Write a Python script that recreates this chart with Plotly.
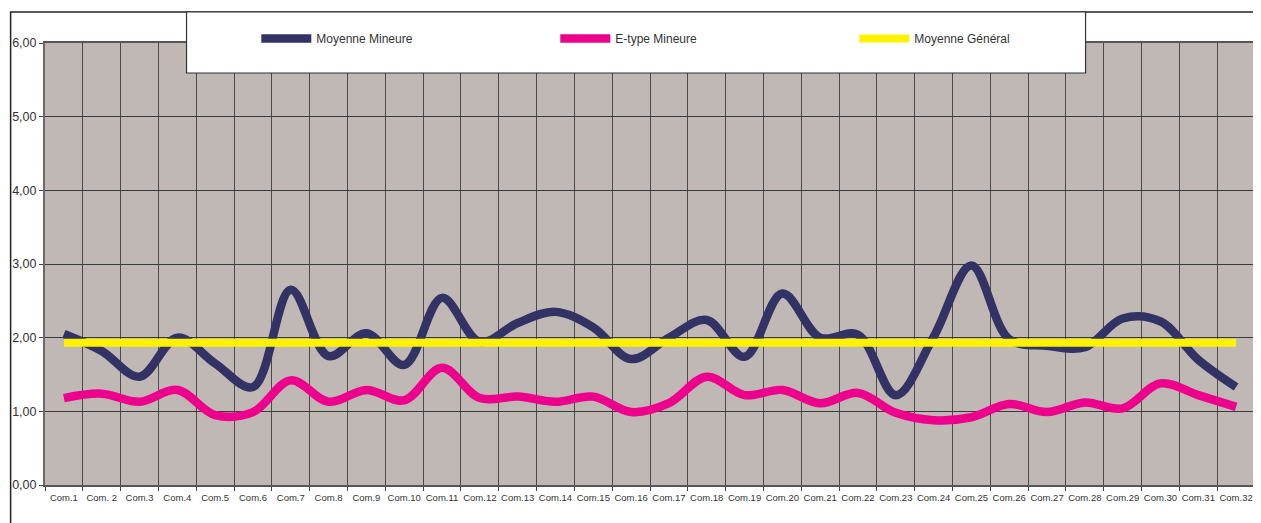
import plotly.graph_objects as go

categories = ["Com.1", "Com. 2", "Com.3", "Com.4", "Com.5", "Com.6", "Com.7", "Com.8",
              "Com.9", "Com.10", "Com.11", "Com.12", "Com.13", "Com.14", "Com.15", "Com.16",
              "Com.17", "Com.18", "Com.19", "Com.20", "Com.21", "Com.22", "Com.23", "Com.24",
              "Com.25", "Com.26", "Com.27", "Com.28", "Com.29", "Com.30", "Com.31", "Com.32"]

moyenne_mineure = [2.05, 1.82, 1.47, 2.00, 1.65, 1.33, 2.65, 1.75, 2.06, 1.63, 2.54, 1.94,
                   2.20, 2.35, 2.14, 1.71, 2.00, 2.24, 1.74, 2.60, 2.00, 2.04, 1.22, 2.01,
                   2.98, 1.98, 1.89, 1.87, 2.26, 2.22, 1.70, 1.33]

etype_mineure = [1.18, 1.24, 1.13, 1.29, 0.95, 0.99, 1.42, 1.13, 1.29, 1.15, 1.59, 1.18,
                 1.20, 1.13, 1.20, 0.99, 1.11, 1.47, 1.22, 1.29, 1.11, 1.25, 0.98, 0.88,
                 0.92, 1.10, 0.99, 1.12, 1.04, 1.38, 1.22, 1.06]

moyenne_general = [1.93, 1.93, 1.93, 1.93, 1.93, 1.93, 1.93, 1.93, 1.93, 1.93, 1.93, 1.93,
                   1.93, 1.93, 1.93, 1.93, 1.93, 1.93, 1.93, 1.93, 1.93, 1.93, 1.93, 1.93,
                   1.93, 1.93, 1.93, 1.93, 1.93, 1.93, 1.93, 1.93]

y_ticks = [0, 1, 2, 3, 4, 5, 6]

# the page body has an 8px margin, so the figure is laid out 8px inside the window
OFF = 8
W, H = 1261 - OFF, 523 - OFF
L, R, T, B = 43 - OFF, 1261 - 1257, 43 - OFF, 523 - 485
pw, ph = W - L - R, H - T - B


def px_x(p):
    return (p - OFF - L) / pw


def px_y(p):
    return (H - B - (p - OFF)) / ph


fig = go.Figure()
fig.add_trace(go.Scatter(x=categories, y=moyenne_mineure, name="Moyenne Mineure", mode="lines",
                         line=dict(color="#323264", width=8.5, shape="spline", smoothing=1.0)))
fig.add_trace(go.Scatter(x=categories, y=etype_mineure, name="E-type Mineure", mode="lines",
                         line=dict(color="#EC008C", width=8.5, shape="spline", smoothing=1.0)))
fig.add_trace(go.Scatter(x=categories, y=moyenne_general, name="Moyenne Général", mode="lines",
                         line=dict(color="#FFF200", width=8)))

shapes = [
    # outer chart frame
    dict(type="rect", xref="paper", yref="paper", x0=px_x(8.5), x1=px_x(1259.5), y0=px_y(560), y1=px_y(12),
         line=dict(color="#222222", width=1.5), fillcolor="rgba(0,0,0,0)", layer="below"),
    # legend box
    dict(type="rect", xref="paper", yref="paper", x0=px_x(185), x1=px_x(1087), y0=px_y(73), y1=px_y(12),
         line=dict(color="#333333", width=1.2), fillcolor="white", layer="above"),
]

fig.update_layout(
    width=W, height=H,
    margin=dict(l=L, r=R, t=T, b=B),
    paper_bgcolor="white",
    plot_bgcolor="#C0B8B5",
    separators=", ",
    font=dict(family="Liberation Sans, Arial, sans-serif", color="#222222"),
    shapes=shapes,
    showlegend=True,
    legend=dict(orientation="h", x=px_x(255), y=px_y(24), xanchor="left", yanchor="top",
                bgcolor="rgba(0,0,0,0)", borderwidth=0, itemwidth=50, entrywidth=234,
                font=dict(size=12, color="#333333"), traceorder="normal"),
    xaxis=dict(type="category", tickson="boundaries", showgrid=True, gridcolor="#4a4a4a", gridwidth=1,
               ticks="outside", ticklen=4, tickcolor="#444444", showline=True, linecolor="#5a5555",
               linewidth=2, mirror=True, tickangle=0, ticklabelstandoff=3,
               tickfont=dict(size=9.5, color="#333333"),
               range=[-0.5, len(categories) - 0.5], fixedrange=True),
    yaxis=dict(range=[0, 6], tickvals=y_ticks, tickformat=".2f", showgrid=True, gridcolor="#3a3a3a",
               gridwidth=1, ticks="outside", ticklen=4, tickcolor="#444444", showline=True,
               linecolor="#6e6868", linewidth=2, mirror=True, zeroline=False,
               tickfont=dict(size=12.5, color="#333333"), fixedrange=True),
)

fig.write_html("out.html")
